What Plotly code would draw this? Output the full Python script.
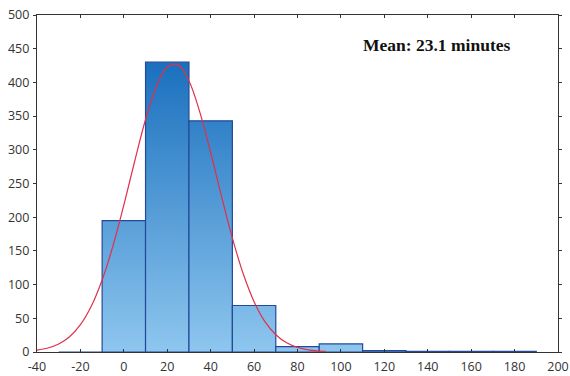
import plotly.graph_objects as go

# Histogram bins (left edges, width 20) and counts
bin_left = [-30, -10, 10, 30, 50, 70, 90, 110, 130, 150, 170]
bin_width = 20
counts = [0, 195, 430, 343, 69, 8, 12, 2, 1, 1, 1]

# Fitted normal curve
curve_x = [-40, -35, -30, -25, -20, -15, -10, -5, 0, 5, 10, 15, 20, 25, 30, 35, 40,
           45, 50, 55, 60, 65, 70, 75, 80, 85, 90, 93]
curve_y = [2.7, 5.9, 11.9, 22.6, 40.5, 67.8, 106.7, 157.5, 218, 283, 345, 394, 423, 426,
           402, 356, 296, 231, 169, 116, 74.6, 45, 25.6, 13.6, 6.8, 3.2, 1.4, 0.9]

x_ticks = [-40, -20, 0, 20, 40, 60, 80, 100, 120, 140, 160, 180, 200]
y_ticks = [0, 50, 100, 150, 200, 250, 300, 350, 400, 450, 500]

annotation_text = "Mean: 23.1 minutes"

fig = go.Figure()

for left, c in zip(bin_left, counts):
    right = left + bin_width
    fig.add_trace(go.Scatter(
        x=[left, left, right, right, left],
        y=[0, c, c, 0, 0],
        mode="lines",
        fill="toself",
        fillgradient=dict(type="vertical",
                          colorscale=[[0, "#8ec6ee"], [1, "#1a70be"]],
                          start=0, stop=430),
        line=dict(color="#23499a", width=1.2),
        hoverinfo="skip",
        showlegend=False,
    ))

fig.add_trace(go.Scatter(
    x=curve_x, y=curve_y, mode="lines", line_shape="spline",
    line=dict(color="#e0304c", width=1.2),
    showlegend=False,
))

fig.add_annotation(
    x=0.766, y=0.911, xref="paper", yref="paper",
    xanchor="center", yanchor="middle",
    text="<b>" + annotation_text + "</b>", showarrow=False,
    font=dict(family="Liberation Serif", size=17.5, color="#111111"),
)

axis_font = dict(family="Open Sans", size=12.5, color="#333333")

fig.update_xaxes(
    range=[-40, 200], tickvals=x_ticks, ticktext=[str(v) for v in x_ticks],
    showgrid=False, zeroline=False, showline=True, linecolor="#333333", linewidth=1.2,
    mirror="ticks", ticks="inside", ticklen=3, tickcolor="#333333",
    tickfont=axis_font, automargin=False, ticklabelstandoff=3,
)
fig.update_yaxes(
    range=[0, 500], tickvals=y_ticks, ticktext=[str(v) for v in y_ticks],
    showgrid=False, zeroline=False, showline=True, linecolor="#333333", linewidth=1.2,
    mirror="ticks", ticks="outside", ticklen=3, tickcolor="#333333",
    tickfont=axis_font, automargin=False, ticklabelstandoff=1,
)

fig.update_layout(
    width=570, height=376,
    margin=dict(l=37, r=12, t=15, b=24),
    paper_bgcolor="white", plot_bgcolor="white",
    showlegend=False,
)

fig.write_html("out.html",
               config={"displayModeBar": False},
               post_script="document.body.style.margin='0';document.body.style.overflow='hidden';")
